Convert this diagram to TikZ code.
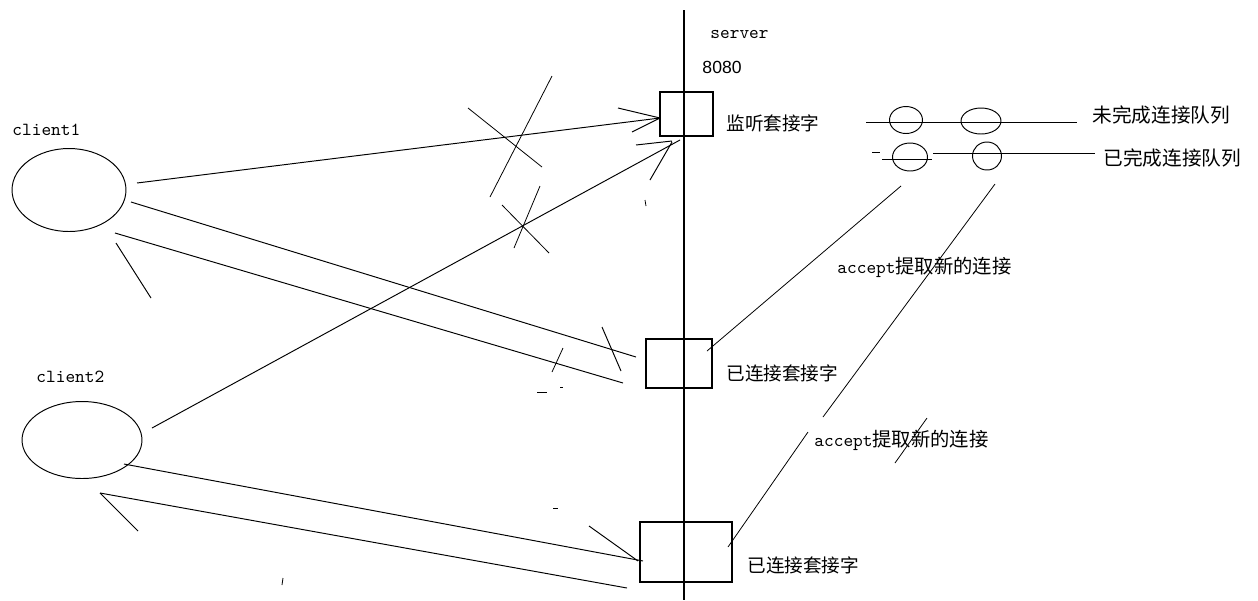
\documentclass[tikz,border=0pt]{standalone}
\usepackage{fontspec}
\setmainfont{Liberation Sans}
\newfontfamily\cjk{Noto Sans CJK SC}
\usetikzlibrary{shapes.geometric}

\begin{document}
\begin{tikzpicture}[
    x=0.02cm,
    y=-0.02cm,
    line width=0.55pt,
    sock/.style={draw, rectangle, inner sep=0pt, line width=0.7pt},
    host/.style={draw, ellipse, inner sep=0pt},
    qitem/.style={draw, ellipse, inner sep=0pt},
    lab/.style={anchor=west, inner sep=0pt},
    mono/.style={lab, font=\fontsize{10.5}{12}\selectfont\ttfamily},
    cjklab/.style={lab, font=\fontsize{10.6}{12}\selectfont\cjk},
    qlab/.style={lab, font=\fontsize{11.2}{13}\selectfont\cjk},
    scratch/.style={line width=0.45pt}
]
\useasboundingbox (0,0) rectangle (1258,600);

% --- Server side ---
\coordinate (srvtop) at (684,10);
\coordinate (srvbot) at (684,600);
\draw[line width=0.7pt] (srvtop) -- (srvbot);
\node[mono] (srvname) at (710,34) {server};
\node[lab, font=\fontsize{10}{12}\selectfont] (port) at (702,67) {8080};

\node[sock, minimum width=1.06cm, minimum height=0.88cm] (listen) at (686.5,114) {};
\node[cjklab] (listenlab) at (726,123) {监听套接字};

\node[sock, minimum width=1.32cm, minimum height=0.98cm] (conn1) at (679,363.5) {};
\node[cjklab] (conn1lab) at (726,373) {已连接套接字};

\node[sock, minimum width=1.84cm, minimum height=1.2cm] (conn2) at (686,552) {};
\node[cjklab] (conn2lab) at (747,565) {已连接套接字};

% --- Clients ---
\node[host, minimum width=2.28cm, minimum height=1.66cm] (client1) at (69,190) {};
\node[mono] (client1lab) at (12,130) {client1};
\node[host, minimum width=2.4cm, minimum height=1.54cm] (client2) at (82,440) {};
\node[mono] (client2lab) at (36,377) {client2};

% --- Queues ---
\coordinate (q1a) at (866,122);
\coordinate (q1b) at (1077,122);
\draw (q1a) -- (q1b);
\node[qitem, minimum width=0.66cm, minimum height=0.54cm] (qA) at (906,120) {};
\node[qitem, minimum width=0.8cm, minimum height=0.52cm] (qB) at (981,121) {};
\node[qlab] (q1lab) at (1092,115) {未完成连接队列};

\coordinate (q2a) at (882,159);
\coordinate (q2b) at (933,153);
\coordinate (q2c) at (1095,153);
\draw (872,152) -- (880,152);
\draw (q2a) -- ++(50,0);
\draw (q2b) -- (q2c);
\node[qitem, minimum width=0.7cm, minimum height=0.56cm] (qC) at (910,157) {};
\node[qitem, minimum width=0.58cm, minimum height=0.56cm] (qD) at (987,156) {};
\node[qlab] (q2lab) at (1103,158) {已完成连接队列};

% --- accept ---
\coordinate (accA) at (901,186);
\coordinate (accB) at (707,351);
\draw[scratch] (accA) -- (accB);
\coordinate (accC) at (995,184);
\coordinate (accD) at (823,417);
\draw[scratch] (accC) -- (accD);
\coordinate (accE) at (808,432);
\coordinate (accF) at (728,547);
\draw[scratch] (accE) -- (accF);
\node[lab] (acc1lab) at (837,267) {\fontsize{10.5}{12}\selectfont\ttfamily accept\fontsize{11}{13}\selectfont\cjk 提取新的连接};
\node[lab] (acc2lab) at (814,440) {\fontsize{10.5}{12}\selectfont\ttfamily accept\fontsize{11}{13}\selectfont\cjk 提取新的连接};
\draw[scratch] (927,418) -- (895,463);

% --- Connections ---
% client1 -> listen
\coordinate (c1a) at (137,183);
\coordinate (lsA) at (660,118);
\draw (c1a) -- (lsA);
\draw (lsA) -- ++(-42,-10) (lsA) -- ++(-28,14);

% client2 -> listen
\coordinate (c2a) at (152,428);
\coordinate (lsB) at (680,140);
\draw (c2a) -- (lsB);
\draw (lsB) ++(-8,1) -- ++(-36,4) (lsB) ++(-8,2) -- ++(-22,38);

% client1 <-> conn1
\coordinate (c1b) at (131,202);
\coordinate (cs1A) at (636,357);
\draw (c1b) -- (cs1A);
\draw (602,327) -- (621,371);
\coordinate (cs1B) at (623,383);
\coordinate (c1c) at (115,233);
\draw (cs1B) -- (c1c);
\draw (116,243) -- (151,298);

% client2 <-> conn2
\coordinate (c2b) at (124,464);
\coordinate (cs2A) at (643,561);
\draw (c2b) -- (cs2A);
\draw (cs2A) ++(-5,0) -- (589,526);
\coordinate (cs2B) at (627,588);
\coordinate (c2c) at (100,493);
\draw (cs2B) -- (c2c);
\draw (c2c) -- ++(38,38);

% --- Crossings out ---
\draw[scratch] (468,108) -- (542,167);
\draw[scratch] (552,76) -- (490,197);
\draw[scratch] (502,205) -- (549,253);
\draw[scratch] (540,186) -- (514,248);
\draw[scratch] (645,200) -- (646,206);
\draw[scratch] (563,348) -- (552,372);
\draw[scratch] (537,392) -- (547,392);
\draw[scratch] (560,387) -- (563,387);
\draw[scratch] (553,508) -- (558,508);
\draw[scratch] (283,578) -- (282,585);

\end{tikzpicture}
\end{document}
